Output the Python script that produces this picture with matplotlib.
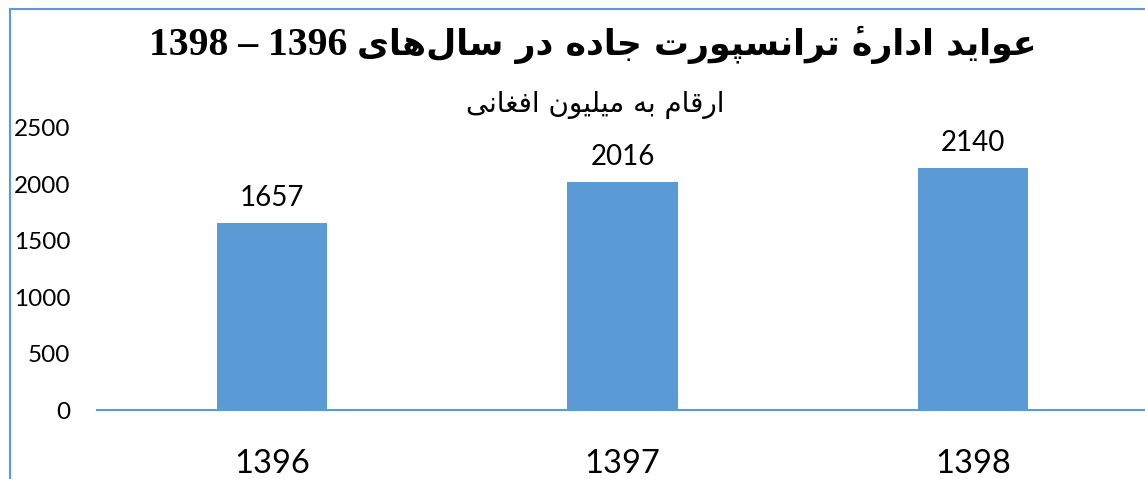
import re
import matplotlib
matplotlib.use("Agg")
import matplotlib.pyplot as plt
from matplotlib.lines import Line2D

# data
years = ["1396", "1397", "1398"]
revenue = [1657, 2016, 2140]
yticks = [0, 500, 1000, 1500, 2000, 2500]
title_words = "عواید ادارهٔ ترانسپورت جاده در سال‌های"
title_years = "1396 – 1398"
subtitle = "ارقام به میلیون افغانی"

BLUE = "#5B9BD5"

# matplotlib does no Arabic shaping, so pick presentation forms by hand
# (isolated, final, initial, medial); two-form letters do not join leftwards
FORMS = {
    "ا": (0xFE8D, 0xFE8E),
    "ب": (0xFE8F, 0xFE90, 0xFE91, 0xFE92),
    "پ": (0xFB56, 0xFB57, 0xFB58, 0xFB59),
    "ت": (0xFE95, 0xFE96, 0xFE97, 0xFE98),
    "ج": (0xFE9D, 0xFE9E, 0xFE9F, 0xFEA0),
    "د": (0xFEA9, 0xFEAA),
    "ر": (0xFEAD, 0xFEAE),
    "س": (0xFEB1, 0xFEB2, 0xFEB3, 0xFEB4),
    "ع": (0xFEC9, 0xFECA, 0xFECB, 0xFECC),
    "غ": (0xFECD, 0xFECE, 0xFECF, 0xFED0),
    "ف": (0xFED1, 0xFED2, 0xFED3, 0xFED4),
    "ق": (0xFED5, 0xFED6, 0xFED7, 0xFED8),
    "ل": (0xFEDD, 0xFEDE, 0xFEDF, 0xFEE0),
    "م": (0xFEE1, 0xFEE2, 0xFEE3, 0xFEE4),
    "ن": (0xFEE5, 0xFEE6, 0xFEE7, 0xFEE8),
    "ه": (0xFEE9, 0xFEEA, 0xFEEB, 0xFEEC),
    "و": (0xFEED, 0xFEEE),
    "ی": (0xFBFC, 0xFBFD, 0xFBFE, 0xFBFF),
}
MARKS = "\u0654"


def dual(c):
    return c in FORMS and len(FORMS[c]) == 4


def shape(text):
    letters = [c for c in text if c not in MARKS]
    marks = {}
    k = -1
    for c in text:
        if c in MARKS:
            marks[k] = marks.get(k, "") + c
        else:
            k += 1
    out = []
    i = 0
    while i < len(letters):
        c = letters[i]
        if c not in FORMS:
            if c != "\u200c":
                out.append(c)
            i += 1
            continue
        jp = i > 0 and dual(letters[i - 1])
        if c == "ل" and i + 1 < len(letters) and letters[i + 1] == "ا":
            out.append(chr(0xFEFC if jp else 0xFEFB))
            i += 2
            continue
        jn = dual(c) and i + 1 < len(letters) and letters[i + 1] in FORMS
        f = FORMS[c]
        if jp and jn:
            g = f[3]
        elif jp:
            g = f[1]
        elif jn:
            g = f[2]
        else:
            g = f[0]
        # zero-width mark ends up just left of its base after reversing,
        # so it is drawn on top of it
        out.append(chr(g) + marks.get(i, ""))
        i += 1
    s = "".join(out)[::-1]
    # numbers stay left-to-right inside the RTL line
    return re.sub(r"[0-9]+", lambda m: m.group(0)[::-1], s)


fig = plt.figure(figsize=(11.45, 4.79), dpi=100)
ax = fig.add_axes([0.0845, 0.144, 0.9183, 0.5898])

x = range(len(years))
bars = ax.bar(x, revenue, width=0.314, color=BLUE, zorder=2)
for b, v in zip(bars, revenue):
    ax.annotate(str(v), (b.get_x() + b.get_width() / 2, v), xytext=(0, 12),
                textcoords="offset pixels", ha="center", va="bottom",
                fontsize=20, family="Lato")

ax.set_xlim(-0.5, 2.5)
ax.set_ylim(0, 2500)
ax.set_yticks(yticks)
ax.set_yticklabels([str(t) for t in yticks], family="Lato", fontsize=17.5)
ax.set_xticks(list(x))
ax.set_xticklabels(years, family="Lato", fontsize=23.5)
ax.tick_params(axis="y", length=0, pad=19)
ax.tick_params(axis="x", length=0, pad=28)
for s in ["top", "right", "left"]:
    ax.spines[s].set_visible(False)
ax.spines["bottom"].set_color(BLUE)
ax.spines["bottom"].set_linewidth(1.5)

# chart frame (only top and left edges show in the crop)
fig.add_artist(Line2D([10 / 1145, 1], [1 - 9 / 479] * 2, color=BLUE, lw=1.5))
fig.add_artist(Line2D([10 / 1145] * 2, [0, 1 - 9 / 479], color=BLUE, lw=1.5))

# title: the year range is set in a serif face, the words in an Arabic-capable sans
base = 1 - 55 / 479
fig.text(347 / 1145, base, shape(title_years), ha="right", va="baseline",
         fontsize=28.5, fontweight="bold", family="Liberation Serif")
fig.text(357 / 1145, base, shape(title_words), ha="left", va="baseline",
         fontsize=25, fontweight="bold", family="DejaVu Sans")
fig.text(0.52, 1 - 105 / 479, shape(subtitle), ha="center", va="center",
         fontsize=20, family="DejaVu Sans")

fig.savefig("out.png", dpi=100)
